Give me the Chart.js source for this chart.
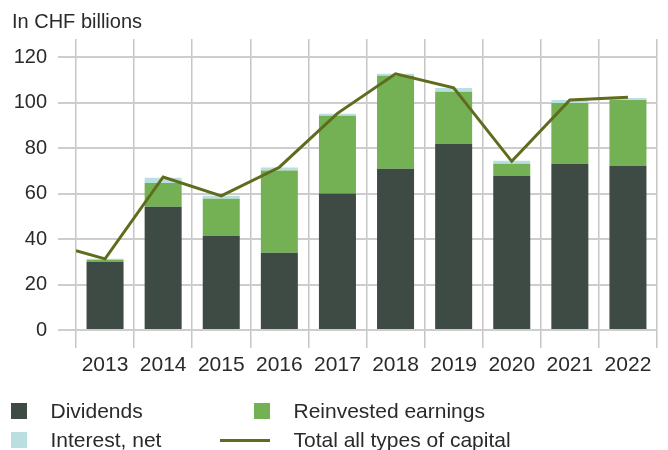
<!DOCTYPE html>
<html>
<head>
<meta charset="utf-8">
<script src="https://cdn.jsdelivr.net/npm/chart.js@4/dist/chart.umd.min.js"></script>
<style>
  html, body { margin: 0; padding: 0; background: #ffffff; }
  #wrap { position: relative; width: 668px; height: 450px; overflow: hidden; }
  #c { position: absolute; left: 0; top: 0; }
  #legend {
    position: absolute; left: 11px; top: 396px;
    display: grid; grid-template-columns: 209px 300px; grid-auto-rows: 29.5px;
    font-family: "Liberation Sans", Arial, sans-serif; font-size: 21px; color: #2a2a2a;
  }
  .item { display: flex; align-items: center; white-space: nowrap; }
  .mk { display: flex; align-items: center; width: 16px; height: 29px; }
  .item:nth-child(even) .mk { width: 50px; justify-content: flex-end; }
  .sq { width: 16px; height: 16px; }
  .ln { width: 50px; height: 3px; }
  .tx { margin-left: 23.5px; }
</style>
</head>
<body>
<div id="wrap">
  <canvas id="c" width="668" height="450"></canvas>
  <div id="legend"></div>
</div>
<script>
// ---- data ----
const years = ['2013','2014','2015','2016','2017','2018','2019','2020','2021','2022'];
const dividends  = [30.0, 54.2, 41.4, 34.0, 60.0, 70.9, 81.9, 67.8, 73.1, 72.2];
const reinvested = [0.9, 10.5, 16.3, 36.2, 34.2, 40.9, 22.9, 5.3, 26.8, 29.0];
const interest   = [0.4, 2.3, 1.3, 1.3, 0.9, 0.9, 1.7, 1.3, 1.3, 0.8];
// total line: starts at the left edge of the plot (between 2012 and 2013)
const totalX = [2012.5, 2013, 2014, 2015, 2016, 2017, 2018, 2019, 2020, 2021, 2022];
const totalY = [34.9, 31.3, 67.3, 59.0, 71.6, 95.3, 112.7, 106.5, 74.2, 101.2, 102.4];
const yTicks = [0, 20, 40, 60, 80, 100, 120];
const titleText = 'In CHF billions';

const FONT = '"Liberation Sans", Arial, sans-serif';
const TXT = '#2a2a2a';

const barOpts = { type: 'bar', order: 2, grouped: false, categoryPercentage: 1, barPercentage: 0.637 };

const chart = new Chart(document.getElementById('c'), {
  data: {
    labels: years,
    datasets: [
      Object.assign({ label: 'Dividends', data: dividends, backgroundColor: '#3d4b44' }, barOpts),
      Object.assign({ label: 'Reinvested earnings', data: reinvested, backgroundColor: '#74b054' }, barOpts),
      Object.assign({ label: 'Interest, net', data: interest, backgroundColor: '#b9dfe0' }, barOpts),
      { type: 'line', label: 'Total all types of capital', xAxisID: 'xLine', yAxisID: 'y', order: 0,
        data: totalX.map((x, i) => ({ x: x, y: totalY[i] })),
        borderColor: '#5f6c1e', backgroundColor: '#5f6c1e', borderWidth: 3, pointRadius: 0, tension: 0,
        fill: false, borderJoinStyle: 'miter' }
    ]
  },
  options: {
    responsive: false,
    animation: false,
    devicePixelRatio: 1,
    layout: { padding: { left: 12, right: 11, top: 0, bottom: 65 } },
    plugins: {
      legend: { display: false },
      tooltip: { enabled: false },
      title: {
        display: true, text: titleText, align: 'start', color: TXT,
        font: { family: FONT, size: 20, weight: 'normal', lineHeight: 1.2 },
        padding: { top: 10, bottom: 5 }
      }
    },
    scales: {
      x: {
        type: 'category', stacked: true, offset: true,
        grid: { offset: true, color: '#c6c6c6', lineWidth: 1.5, tickLength: 18, drawTicks: true },
        border: { display: false },
        ticks: { color: TXT, font: { family: FONT, size: 21 }, padding: 5, maxRotation: 0, autoSkip: false },
        afterFit: s => { s.height = 55; }
      },
      xLine: {
        type: 'linear', display: false, min: 2012.5, max: 2022.5, offset: false
      },
      y: {
        stacked: true, min: 0, max: 128,
        grid: { color: '#cdcdcd', lineWidth: 2, tickLength: 18 },
        border: { display: false },
        ticks: { stepSize: 20, color: TXT, font: { family: FONT, size: 20 }, padding: 11 },
        afterBuildTicks: s => { s.ticks = yTicks.map(v => ({ value: v })); },
        afterFit: s => { s.width = 64; }
      }
    }
  }
});

// HTML legend built from the chart's datasets
const lg = document.getElementById('legend');
chart.data.datasets.forEach(ds => {
  const it = document.createElement('div'); it.className = 'item';
  const mk = document.createElement('div'); mk.className = 'mk';
  const sw = document.createElement('div');
  if (ds.type === 'line') { sw.className = 'ln'; sw.style.background = ds.borderColor; }
  else { sw.className = 'sq'; sw.style.background = ds.backgroundColor; }
  mk.appendChild(sw);
  const tx = document.createElement('span'); tx.className = 'tx'; tx.textContent = ds.label;
  it.appendChild(mk); it.appendChild(tx);
  lg.appendChild(it);
});
</script>
</body>
</html>
